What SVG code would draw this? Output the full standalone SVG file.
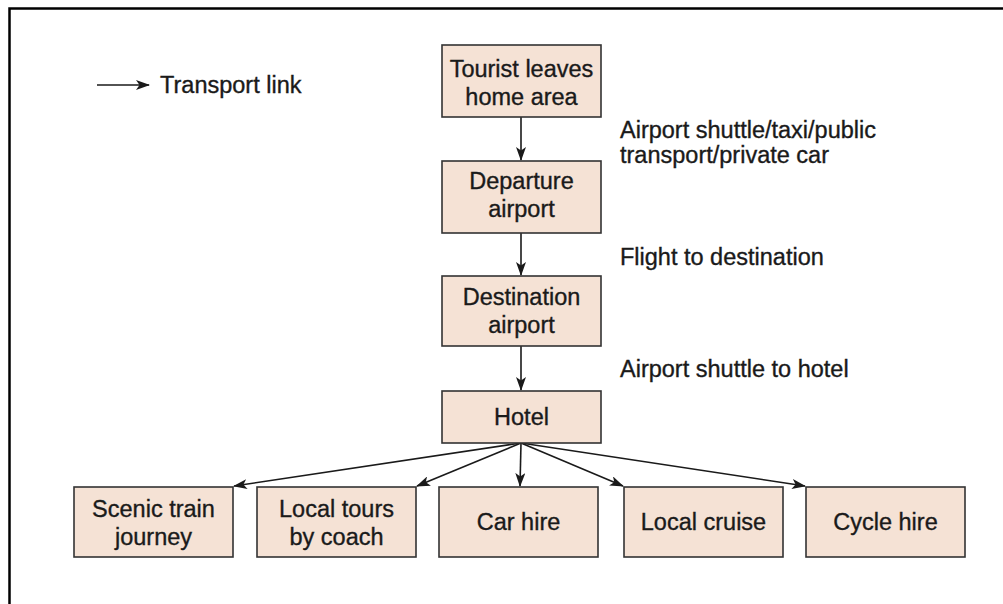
<svg xmlns="http://www.w3.org/2000/svg" width="1003" height="604" viewBox="0 0 1003 604">
<style>
.box{fill:#f5e2d5;stroke:#333;stroke-width:1.6}
.t{font-family:"Liberation Sans",Arial,sans-serif;font-size:23.5px;fill:#1a1a1a;stroke:#1a1a1a;stroke-width:0.35;text-anchor:middle}
.l{font-family:"Liberation Sans",Arial,sans-serif;font-size:23.5px;fill:#1a1a1a;stroke:#1a1a1a;stroke-width:0.35}
.c{stroke:#1a1a1a;stroke-width:1.6;fill:none;marker-end:url(#ah)}
</style>
<defs>
<marker id="ah" viewBox="0 0 14 10" refX="13" refY="5" markerWidth="14" markerHeight="10" markerUnits="userSpaceOnUse" orient="auto">
<path d="M0,0 L14,5 L0,10 L3.5,5 Z" fill="#1a1a1a"/>
</marker>
</defs>
<rect width="1003" height="604" fill="#fff"/>
<path d="M9.5,604 V8.5 H1003" fill="none" stroke="#000" stroke-width="2.5"/>
<g id="legend">
<line class="c" x1="97" y1="85" x2="149" y2="85"/>
<text class="l" x="160" y="93">Transport link</text>
</g>
<g id="connectors">
<line class="c" x1="521" y1="117" x2="521" y2="160"/>
<line class="c" x1="521" y1="233" x2="521" y2="275"/>
<line class="c" x1="521" y1="346" x2="521" y2="390"/>
<line class="c" x1="521" y1="443" x2="234" y2="486"/>
<line class="c" x1="521" y1="443" x2="417" y2="486"/>
<line class="c" x1="521" y1="443" x2="520" y2="486"/>
<line class="c" x1="521" y1="443" x2="623" y2="486"/>
<line class="c" x1="521" y1="443" x2="805" y2="486"/>
</g>
<g id="labels">
<text class="l" x="620" y="138">Airport shuttle/taxi/public</text>
<text class="l" x="620" y="163">transport/private car</text>
<text class="l" x="620" y="265">Flight to destination</text>
<text class="l" x="620" y="377">Airport shuttle to hotel</text>
</g>
<g id="n-home"><rect class="box" x="442" y="45" width="159" height="72"/><text class="t" x="521.5" y="77">Tourist leaves</text><text class="t" x="521.5" y="105">home area</text></g>
<g id="n-departure"><rect class="box" x="442" y="161" width="159" height="72"/><text class="t" x="521.5" y="189">Departure</text><text class="t" x="521.5" y="217">airport</text></g>
<g id="n-destination"><rect class="box" x="442" y="276" width="159" height="70"/><text class="t" x="521.5" y="305">Destination</text><text class="t" x="521.5" y="333">airport</text></g>
<g id="n-hotel"><rect class="box" x="442" y="391" width="159" height="52"/><text class="t" x="521.5" y="425">Hotel</text></g>
<g id="n-train"><rect class="box" x="74" y="487" width="159" height="70"/><text class="t" x="153.5" y="517">Scenic train</text><text class="t" x="153.5" y="545">journey</text></g>
<g id="n-coach"><rect class="box" x="257" y="487" width="159" height="70"/><text class="t" x="336.5" y="517">Local tours</text><text class="t" x="336.5" y="545">by coach</text></g>
<g id="n-car"><rect class="box" x="439" y="487" width="159" height="70"/><text class="t" x="518.5" y="530">Car hire</text></g>
<g id="n-cruise"><rect class="box" x="624" y="487" width="159" height="70"/><text class="t" x="703.5" y="530">Local cruise</text></g>
<g id="n-cycle"><rect class="box" x="806" y="487" width="159" height="70"/><text class="t" x="885.5" y="530">Cycle hire</text></g>
</svg>
